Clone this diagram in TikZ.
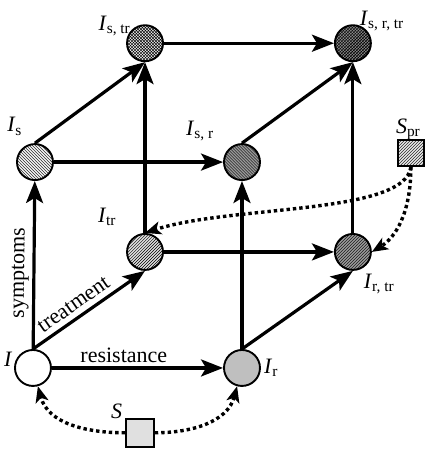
\documentclass[tikz,border=0pt]{standalone}
\usepackage{fontspec}
\setmainfont{Liberation Serif}
\usetikzlibrary{arrows.meta,patterns}
\tikzset{>={Stealth[length=22pt,width=17pt,inset=5pt]}}
\tikzset{every node/.style = {font=\fontsize{22}{26}\selectfont}}
\tikzset{state/.style = {shape=circle, draw, line width=1.9pt, minimum size=36pt,
inner sep=0pt},
pool/.style = {shape=rectangle, draw, line width=1.9pt, minimum size=27pt,
inner sep=0pt},
flow/.style = {->, line width=3.2pt},
infect/.style = {-{Stealth[length=16pt,width=13pt,inset=4pt]}, line width=3.4pt,
dash pattern=on 3.4pt off 3pt},
lbl/.style = {anchor=base west, inner sep=0pt}}
\newcommand{\Isub}[1]{\textit{I}\textsubscript{#1}}

\begin{document}
\begin{tikzpicture}
                \useasboundingbox (-1.16,-2.85) rectangle (13.85,12.94);

                \node[state, fill=white] (I) at (0,0) {};
                \node[state, fill=black!25] (Ir) at (7.35,0) {};
                \node[state, preaction={fill=black!12}, pattern=north east lines] (Itr) at (3.94,4.08) {};
                \node[state, preaction={fill=black!40}, pattern=north east lines] (Irtr) at (11.25,4.08) {};
                \node[state, preaction={fill=black!5}, pattern=north west lines] (Is) at (0.07,7.24) {};
                \node[state, preaction={fill=black!40}, pattern=north west lines] (Isr) at (7.35,7.24) {};
                \node[state, preaction={fill=black!8}, pattern=crosshatch] (Istr) at (3.94,11.42) {};
                \node[state, preaction={fill=black!45}, pattern=crosshatch] (Isrtr) at (11.25,11.42) {};
                \node[pool, preaction={fill=black!10}, pattern=north east lines, minimum size=26pt] (Spr) at (13.29,7.56) {};
                \node[pool, fill=black!12, minimum size=28pt] (S) at (3.76,-2.28) {};

                \node[lbl] (lI) at (-1.02,0.04) {\textit{I}};
                \node[lbl] (lIr) at (8.12,-0.18) {\Isub{r}};
                \node[lbl] (lItr) at (2.28,5.13) {\Isub{tr}};
                \node[lbl] (lIrtr) at (11.63,2.81) {\Isub{r, tr}};
                \node[lbl] (lIs) at (-0.91,8.30) {\Isub{s}};
                \node[lbl] (lIsr) at (5.38,8.19) {\Isub{s, r}};
                \node[lbl] (lIstr) at (2.3,11.88) {\Isub{s, tr}};
                \node[lbl] (lIsrtr) at (11.49,12.06) {\Isub{s, r, tr}};
                \node[lbl] (lSpr) at (12.76,8.25) {\textit{S}\textsubscript{pr}};
                \node[lbl] (lS) at (2.74,-1.76) {\textit{S}};

                \draw[flow] (I) to node[pos=0.45, above, sloped] (tsym) {symptoms} (Is);
                \draw[flow] (I.north) to node[pos=0.43, above=2pt, sloped] (ttreat) {treatment} (Itr.south);
                \draw[flow] (I) to node[pos=0.42, above] (tres) {resistance} (Ir);

                \draw[flow] (Is.north) to (Istr.south);
                \draw[flow] (Is) to (Isr);
                \draw[flow] (Itr) to (Istr);
                \draw[flow] (Itr) to (Irtr);
                \draw[flow] (Ir) to (Isr);
                \draw[flow] (Ir.north) to (Irtr.south);
                \draw[flow] (Istr) to (Isrtr);
                \draw[flow] (Isr.north) to (Isrtr.south);
                \draw[flow] (Irtr) to (Isrtr);

                \draw[infect] (S) to[out=180, in=-75] (I);
                \draw[infect] (S) to[out=0, in=-105] (Ir);
                \draw[infect] (Spr.south) .. controls (13.08,5.38) and (6.92,5.73) .. (Itr.north);
                \draw[infect] (Spr.south) .. controls (13.29,5.4) and (12.72,4.57) .. (Irtr.east);
            \end{tikzpicture}
\end{document}
